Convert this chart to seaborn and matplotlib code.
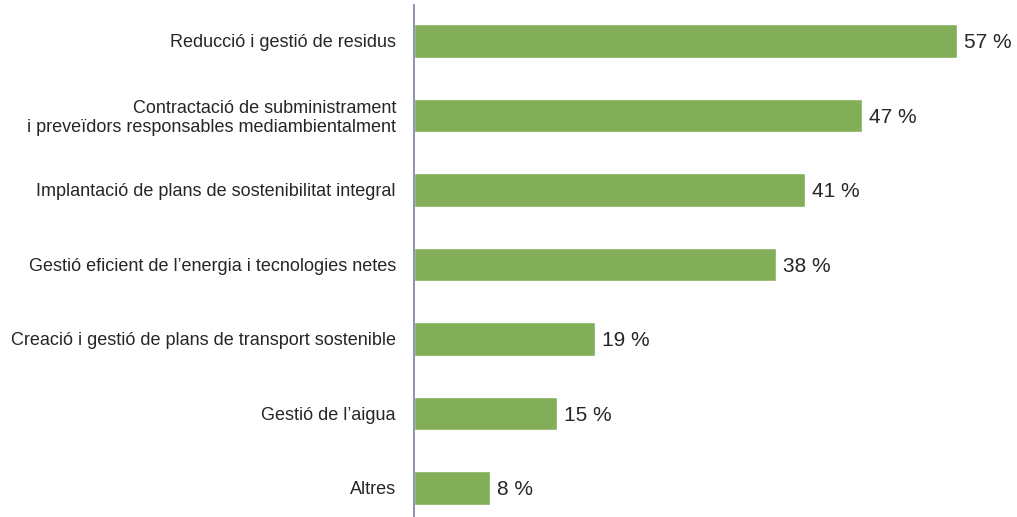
import matplotlib
matplotlib.use("Agg")
import matplotlib.pyplot as plt
import seaborn as sns
import pandas as pd

categories = [
    "Reducció i gestió de residus",
    "Contractació de subministrament\ni preveïdors responsables mediambientalment",
    "Implantació de plans de sostenibilitat integral",
    "Gestió eficient de l’energia i tecnologies netes",
    "Creació i gestió de plans de transport sostenible",
    "Gestió de l’aigua",
    "Altres",
]
values = [57, 47, 41, 38, 19, 15, 8]
value_labels = ["57 %", "47 %", "41 %", "38 %", "19 %", "15 %", "8 %"]

sns.set_style("white")
plt.rcParams["font.family"] = ["Liberation Sans", "DejaVu Sans"]

df = pd.DataFrame({"cat": categories, "val": values})

fig = plt.figure(figsize=(10.17, 5.17), dpi=100)
ax = fig.add_axes([414 / 1017, 0, 1 - 414 / 1017, 512 / 517])

sns.barplot(data=df, x="val", y="cat", color="#82ae57", width=0.45,
            saturation=1, ax=ax)

ax.set_xlim(0, 63.3)
ax.set_ylim(6.39, -0.483)
ax.set_xlabel("")
ax.set_ylabel("")
ax.set_xticks([])
ax.tick_params(axis="y", length=0, pad=13, labelsize=13, labelcolor="#262626")
for lbl in ax.get_yticklabels():
    lbl.set_horizontalalignment("right")
    lbl.set_multialignment("right")
    lbl.set_linespacing(1.15)

for s in ["top", "right", "bottom"]:
    ax.spines[s].set_visible(False)
ax.spines["left"].set_color("#7c7fa6")
ax.spines["left"].set_linewidth(1.2)

for i, (v, t) in enumerate(zip(values, value_labels)):
    ax.text(v + 0.75, i, t, va="center_baseline", ha="left", fontsize=15, color="#262626")

fig.savefig("out.png", dpi=100)
